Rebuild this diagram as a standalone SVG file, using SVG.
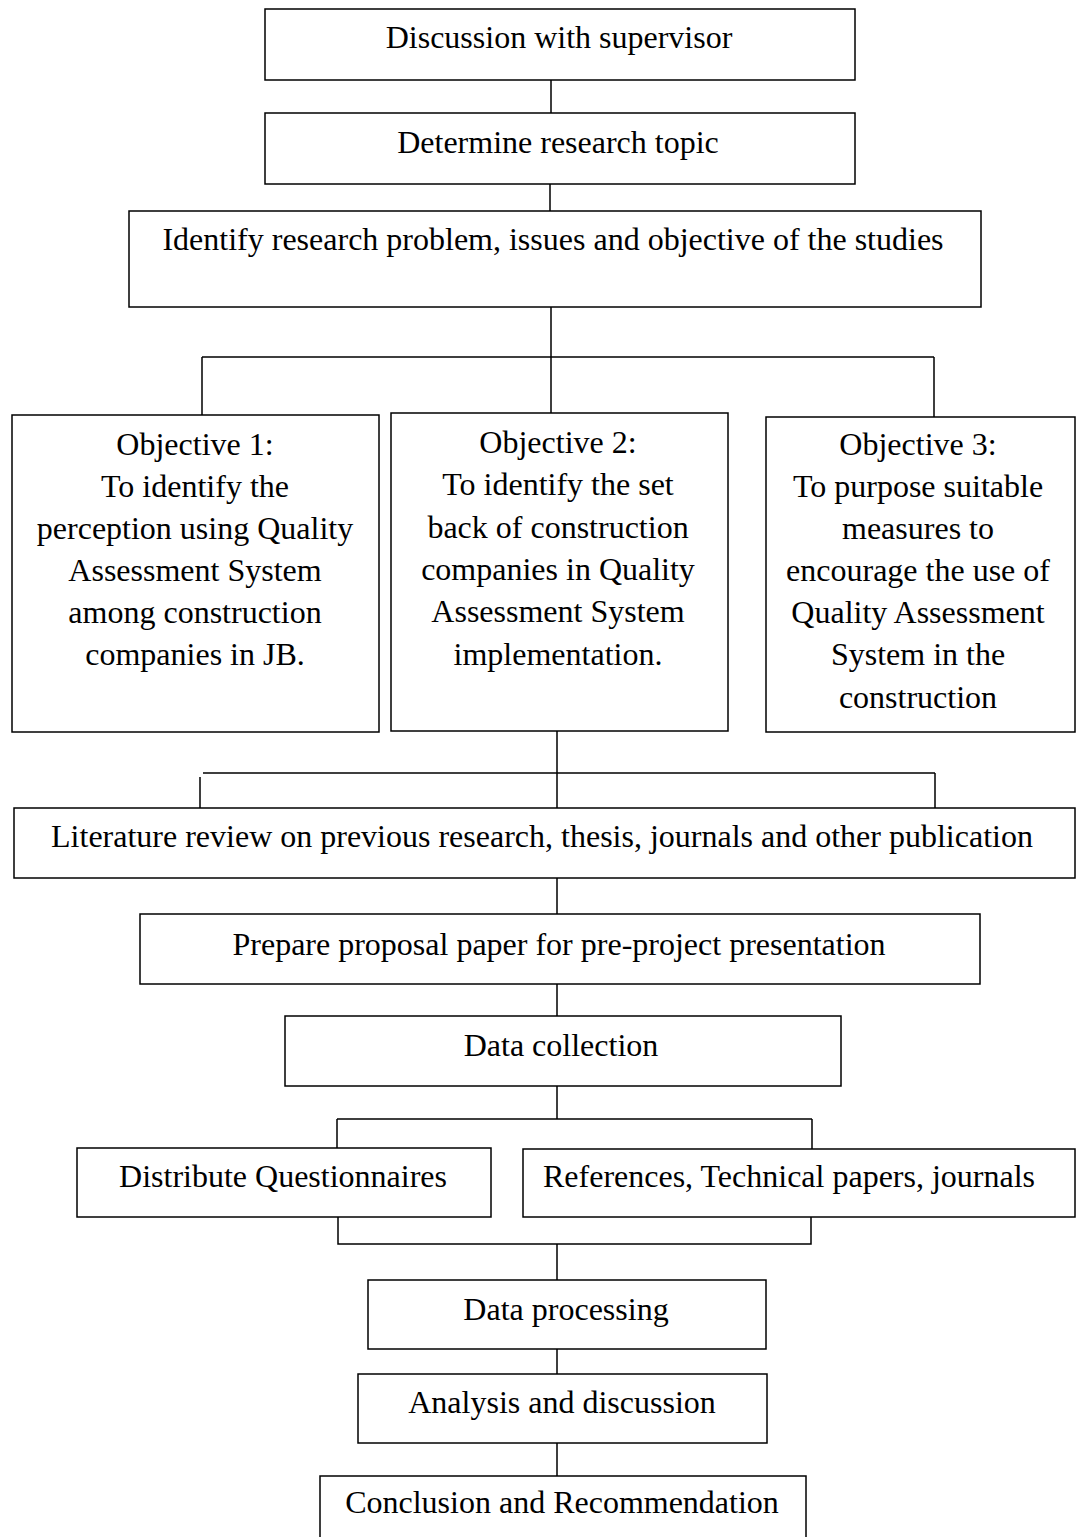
<svg xmlns="http://www.w3.org/2000/svg" width="1078" height="1537" viewBox="0 0 1078 1537">
<style>
.box{fill:#fff;stroke:#000;stroke-width:1.5}
.ln{fill:none;stroke:#000;stroke-width:1.5}
text{font-family:"Liberation Serif","Times New Roman",serif;font-size:32px;fill:#000;text-anchor:middle}
</style>
<rect width="1078" height="1537" fill="#fff"/>
<g id="connectors">
<path class="ln" d="M551 80V113M550 184V211M551 307V357M202 357H934M202 357V415M551 357V413M934 357V417"/>
<path class="ln" d="M557 731V773M203 773H935M200 777V808M557 773V808M935 773V808"/>
<path class="ln" d="M557 878V914M557 984V1016M557 1086V1119M337 1119H812M337 1119V1148M812 1119V1149"/>
<path class="ln" d="M338 1217V1244H811V1217M557 1244V1280M557 1349V1374M557 1443V1476"/>
</g>
<g id="n1"><rect class="box" x="265" y="9" width="590" height="71"/><text x="559" y="48">Discussion with supervisor</text></g>
<g id="n2"><rect class="box" x="265" y="113" width="590" height="71"/><text x="558" y="153">Determine research topic</text></g>
<g id="n3"><rect class="box" x="129" y="211" width="852" height="96"/><text x="553" y="250">Identify research problem, issues and objective of the studies</text></g>
<g id="obj1"><rect class="box" x="12" y="415" width="367" height="317"/>
<text x="195" y="455">Objective 1:</text><text x="195" y="497">To identify the</text><text x="195" y="539">perception using Quality</text><text x="195" y="581">Assessment System</text><text x="195" y="623">among construction</text><text x="195" y="665">companies in JB.</text></g>
<g id="obj2"><rect class="box" x="391" y="413" width="337" height="318"/>
<text x="558" y="453">Objective 2:</text><text x="558" y="495">To identify the set</text><text x="558" y="538">back of construction</text><text x="558" y="580">companies in Quality</text><text x="558" y="622">Assessment System</text><text x="558" y="665">implementation.</text></g>
<g id="obj3"><rect class="box" x="766" y="417" width="309" height="315"/>
<text x="918" y="455">Objective 3:</text><text x="918" y="497">To purpose suitable</text><text x="918" y="539">measures to</text><text x="918" y="581">encourage the use of</text><text x="918" y="623">Quality Assessment</text><text x="918" y="665">System in the</text><text x="918" y="708">construction</text></g>
<g id="lit"><rect class="box" x="14" y="808" width="1061" height="70"/><text x="542" y="847">Literature review on previous research, thesis, journals and other publication</text></g>
<g id="prep"><rect class="box" x="140" y="914" width="840" height="70"/><text x="559" y="955">Prepare proposal paper for pre-project presentation</text></g>
<g id="dc"><rect class="box" x="285" y="1016" width="556" height="70"/><text x="561" y="1056">Data collection</text></g>
<g id="dq"><rect class="box" x="77" y="1148" width="414" height="69"/><text x="283" y="1187">Distribute Questionnaires</text></g>
<g id="ref"><rect class="box" x="523" y="1149" width="552" height="68"/><text x="789" y="1187">References, Technical papers, journals</text></g>
<g id="dp"><rect class="box" x="368" y="1280" width="398" height="69"/><text x="566" y="1320">Data processing</text></g>
<g id="ad"><rect class="box" x="358" y="1374" width="409" height="69"/><text x="562" y="1413">Analysis and discussion</text></g>
<g id="cr"><rect class="box" x="320" y="1476" width="486" height="70"/><text x="562" y="1513">Conclusion and Recommendation</text></g>
</svg>
